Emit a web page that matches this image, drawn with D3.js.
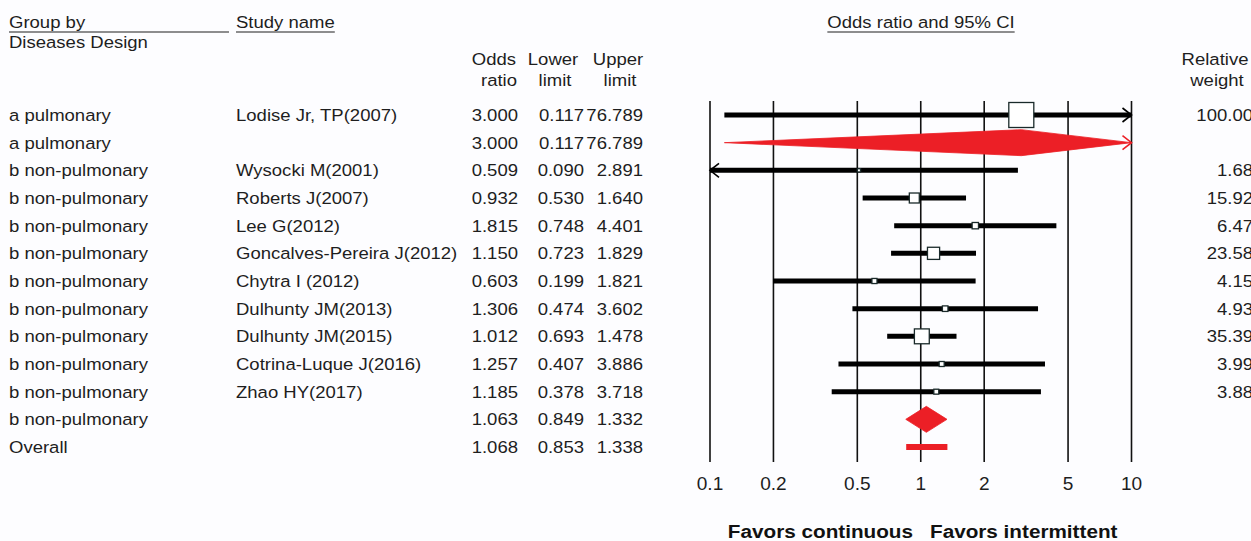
<!DOCTYPE html>
<html><head><meta charset="utf-8">
<script src="https://cdn.jsdelivr.net/npm/d3@7"></script>
<style>
html,body{margin:0;padding:0;background:#fdfdff;}
svg{display:block;font-family:Arial,"Liberation Sans",sans-serif;}
</style></head>
<body>
<svg id="chart" width="1251" height="541"></svg>
<script>
// ---------- data ----------
const groups = ["a pulmonary","a pulmonary","b non-pulmonary","b non-pulmonary","b non-pulmonary","b non-pulmonary","b non-pulmonary","b non-pulmonary","b non-pulmonary","b non-pulmonary","b non-pulmonary","b non-pulmonary","Overall"];
const studies = ["Lodise Jr, TP(2007)","","Wysocki M(2001)","Roberts J(2007)","Lee G(2012)","Goncalves-Pereira J(2012)","Chytra I (2012)","Dulhunty JM(2013)","Dulhunty JM(2015)","Cotrina-Luque J(2016)","Zhao HY(2017)","",""];
const rowKinds = ["study","summary","study","study","study","study","study","study","study","study","study","summary","overall"];
const oddsRatio = [3.000,3.000,0.509,0.932,1.815,1.150,0.603,1.306,1.012,1.257,1.185,1.063,1.068];
const lowerLimit = [0.117,0.117,0.090,0.530,0.748,0.723,0.199,0.474,0.693,0.407,0.378,0.849,0.853];
const upperLimit = [76.789,76.789,2.891,1.640,4.401,1.829,1.821,3.602,1.478,3.886,3.718,1.332,1.338];
const relWeight = [100.00,null,1.68,15.92,6.47,23.58,4.15,4.93,35.39,3.99,3.88,null,null];
const tickValues = [0.1,0.2,0.5,1,2,5,10];
const tickLabels = ["0.1","0.2","0.5","1","2","5","10"];

// ---------- layout ----------
const svg = d3.select("#chart");
const SX = 1.09;          // horizontal text stretch of the original
const FS = 17;
const TXT = "#1e1e1e";
const RED = "#ec1f26";

const x = d3.scaleLog().domain([0.1,10]).range([710,1131.5]);
const rowIdx = d3.range(groups.length);
const y = d3.scalePoint().domain(rowIdx).range([115,447]);

function txt(px, py, s, anchor, opts){
  opts = opts||{};
  const t = svg.append("text")
    .attr("transform",`translate(${px},${py}) scale(${opts.sx||SX},1)`)
    .attr("text-anchor",anchor||"start")
    .attr("font-size",opts.fs||FS)
    .attr("font-weight",opts.fw||"normal")
    .attr("fill",opts.fill||TXT)
    .text(s);
  return t;
}
function underline(t, px, py, anchor){
  const w = t.node().getComputedTextLength()*SX;
  let x0 = px;
  if(anchor==="middle") x0 = px - w/2;
  if(anchor==="end") x0 = px - w;
  svg.append("line").attr("x1",x0).attr("x2",x0+w).attr("y1",py).attr("y2",py)
    .attr("stroke",TXT).attr("stroke-width",1.2);
}

// headers
txt(9,28,"Group by");
svg.append("line").attr("x1",9).attr("x2",229).attr("y1",32).attr("y2",32).attr("stroke",TXT).attr("stroke-width",1.2);
txt(9,48,"Diseases Design");
underline(txt(236,28,"Study name"),236,32,"start");
underline(txt(921,28,"Odds ratio and 95% CI","middle"),921,32,"middle");

const colOR = 518, colLo = 584, colUp = 643;
txt(494,65,"Odds","middle"); txt(499,86,"ratio","middle");
txt(553,65,"Lower","middle"); txt(555,86,"limit","middle");
txt(618,65,"Upper","middle"); txt(620,86,"limit","middle");
txt(1215,65,"Relative","middle"); txt(1217,86,"weight","middle");

// table rows
rowIdx.forEach(i=>{
  const yy = y(i)+6;
  txt(9,yy,groups[i]);
  if(studies[i]) txt(236,yy,studies[i]);
  txt(colOR,yy,oddsRatio[i].toFixed(3),"end");
  txt(colLo,yy,lowerLimit[i].toFixed(3),"end");
  txt(colUp,yy,upperLimit[i].toFixed(3),"end");
  if(relWeight[i]!=null) txt(1253,yy,relWeight[i].toFixed(2),"end");
});

// vertical reference lines
svg.append("g").selectAll("line").data(tickValues).join("line")
  .attr("x1",d=>x(d)).attr("x2",d=>x(d)).attr("y1",101).attr("y2",462)
  .attr("stroke","#111").attr("stroke-width",1.6);

// tick labels
tickValues.forEach((v,i)=>txt(x(v),490,tickLabels[i],"middle",{fs:17.5}));

// bottom favors labels
txt(913,538,"Favors continuous","end",{fw:"bold",fs:19,fill:"#111"});
txt(930,538,"Favors intermittent","start",{fw:"bold",fs:19,fill:"#111"});

const [xmin,xmax] = x.range();
function clipX(v){ return Math.max(xmin, Math.min(xmax, x(v))); }
function arrow(px, py, dir, color){
  svg.append("path")
    .attr("d",`M${px-dir*9},${py-7}L${px},${py}L${px-dir*9},${py+7}`)
    .attr("fill","none").attr("stroke",color).attr("stroke-width",1.6);
}

// study rows
rowIdx.filter(i=>rowKinds[i]==="study").forEach(i=>{
  const yy = y(i);
  const x0 = clipX(lowerLimit[i]), x1 = clipX(upperLimit[i]);
  svg.append("line").attr("x1",x0).attr("x2",x1).attr("y1",yy).attr("y2",yy)
    .attr("stroke","#000").attr("stroke-width",5);
  if(x(lowerLimit[i])<xmin) arrow(xmin,yy,-1,"#000");
  if(x(upperLimit[i])>xmax) arrow(xmax,yy,1,"#000");
  const s = 2.5*Math.sqrt(relWeight[i]);
  svg.append("rect").attr("x",x(oddsRatio[i])-s/2).attr("y",yy-s/2)
    .attr("width",s).attr("height",s)
    .attr("fill","#fff").attr("stroke","#1a2a2a").attr("stroke-width",1.3);
});

// summary diamonds
rowIdx.filter(i=>rowKinds[i]==="summary").forEach(i=>{
  const yy = y(i), h = 13;
  const xl = clipX(lowerLimit[i]), xc = x(oddsRatio[i]), xr = clipX(upperLimit[i]);
  svg.append("path")
    .attr("d",`M${xl},${yy}L${xc},${yy-h}L${xr},${yy}L${xc},${yy+h}Z`)
    .attr("fill",RED).attr("stroke",RED).attr("stroke-width",0.8);
  if(x(upperLimit[i])>xmax) arrow(xmax,yy,1,RED);
  if(x(lowerLimit[i])<xmin) arrow(xmin,yy,-1,RED);
});

// overall bar
rowIdx.filter(i=>rowKinds[i]==="overall").forEach(i=>{
  const yy = y(i);
  svg.append("line").attr("x1",x(lowerLimit[i])).attr("x2",x(upperLimit[i]))
    .attr("y1",yy).attr("y2",yy).attr("stroke",RED).attr("stroke-width",6);
});
</script>
</body></html>
